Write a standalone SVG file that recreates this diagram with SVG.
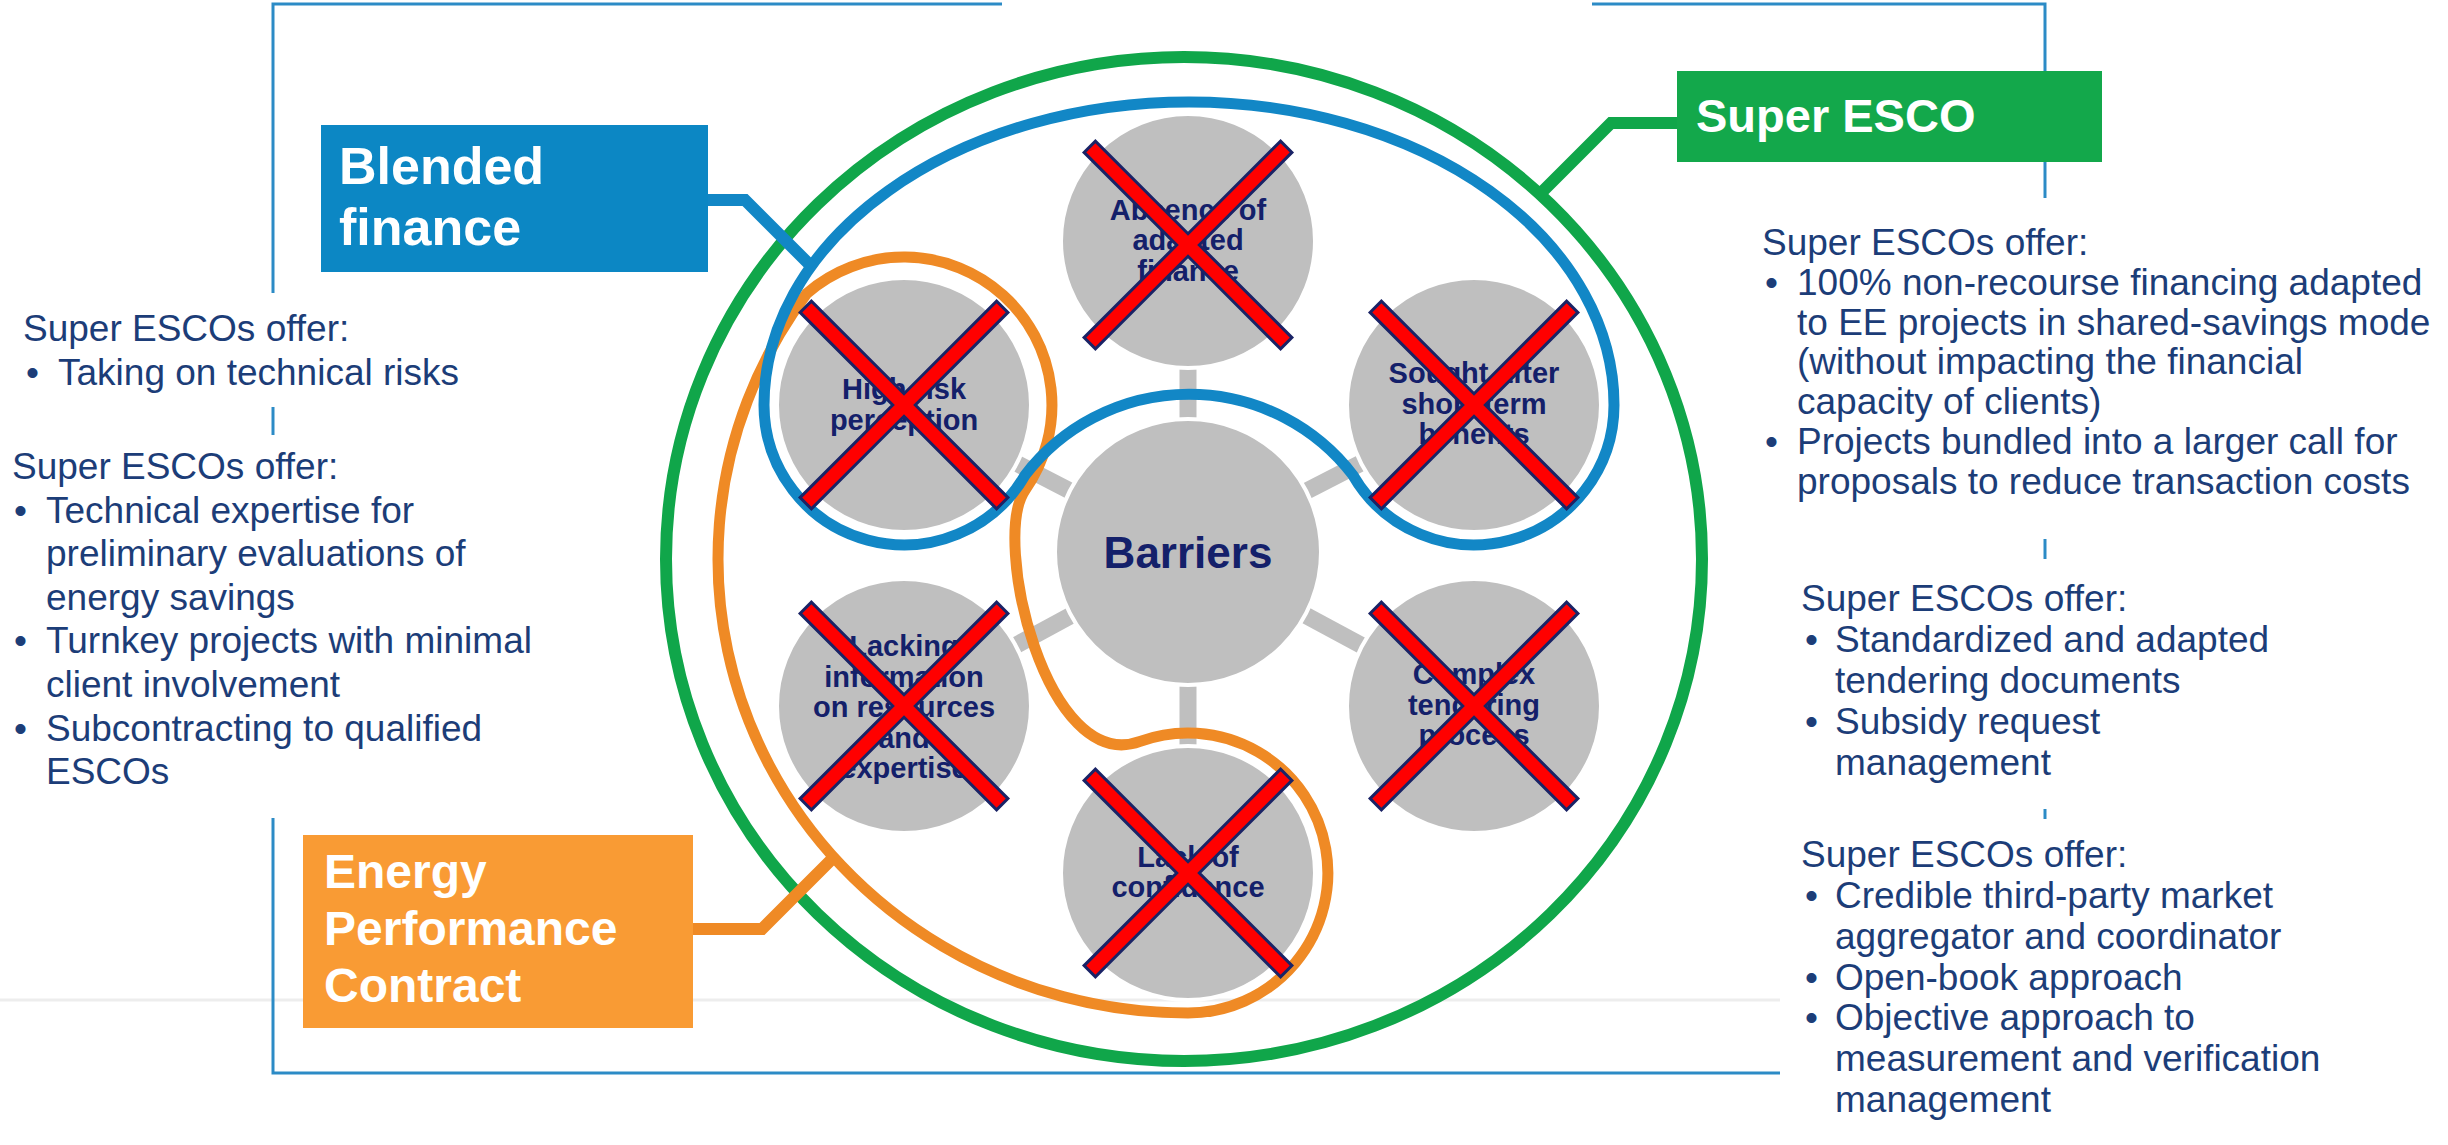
<svg xmlns="http://www.w3.org/2000/svg" width="2448" height="1145" viewBox="0 0 2448 1145">
<style>
.frame{fill:none;stroke:#2C8BC6;stroke-width:3}
.node{fill:#BFBFBF;stroke:#FFFFFF;stroke-width:4}
.ntext{font-family:"Liberation Sans",Arial,sans-serif;font-weight:bold;font-size:29px;fill:#14206A;text-anchor:middle}
.btext{font-family:"Liberation Sans",Arial,sans-serif;font-weight:bold;fill:#FFFFFF}
.body{font-family:"Liberation Sans",Arial,sans-serif;font-size:37px;fill:#1C3D78}
.stub{stroke:#BFBFBF;stroke-width:17;fill:none}
.xo{fill:#FF0000;stroke:#1A2366;stroke-width:3;stroke-linejoin:miter}
.loop{fill:none;stroke-width:11}
</style>
<defs>
<polygon id="xmark" class="xo" points="11.3,0 103.9,92.6 92.6,103.9 0,11.3 -92.6,103.9 -103.9,92.6 -11.3,0 -103.9,-92.6 -92.6,-103.9 0,-11.3 92.6,-103.9 103.9,-92.6"/>
</defs>
<rect width="2448" height="1145" fill="#FFFFFF"/>
<line x1="0" y1="1000" x2="1780" y2="1000" stroke="#EDEDED" stroke-width="3"/>
<g id="frame" class="frame">
<path d="M1002 4 L273 4 L273 293"/>
<path d="M273 407 L273 435"/>
<path d="M273 818 L273 1073 L1780 1073"/>
<path d="M1592 4 L2045 4 L2045 80"/>
<path d="M2045 150 L2045 198"/>
<path d="M2045 539 L2045 559"/>
<path d="M2045 809 L2045 819"/>
</g>
<g id="super-esco-ring">
<ellipse cx="1184" cy="559" rx="518" ry="502" fill="none" stroke="#10A64A" stroke-width="12"/>
</g>
<g id="connectors">
<g id="stubs" class="stub">
<line x1="1188" y1="552" x2="1188" y2="241"/>
<line x1="1188" y1="552" x2="1188" y2="873"/>
<line x1="1188" y1="552" x2="904" y2="405"/>
<line x1="1188" y1="552" x2="1474" y2="405"/>
<line x1="1188" y1="552" x2="904" y2="706"/>
<line x1="1188" y1="552" x2="1474" y2="706"/>
</g>
</g>
<g id="epc-loop">
<path class="loop" stroke="#EF8A25" d="M1188 1013 A470 454 0 0 1 806.9 293.3 A148 148 0 0 1 1025.2 489.9 C990.8 539 1046.1 775.6 1140.1 741.4 A140 140 0 1 1 1188 1013 Z"/>
</g>
<g id="blended-loop">
<path class="loop" stroke="#1287C6" d="M764 405 A425 303 0 0 1 1614 405 A140 140 0 0 1 1352.8 475 A206.6 206.6 0 0 0 1025.2 475 A140 140 0 0 1 764 405 Z"/>
</g>
<g id="barriers">
<circle class="node" cx="1188" cy="552" r="133"/>
<text class="ntext" style="font-size:44px" x="1188" y="568">Barriers</text>
</g>
<g id="absence">
<circle class="node" cx="1188" cy="241" r="127"/>
<text class="ntext"><tspan x="1188" y="220">Absence of</tspan><tspan x="1188" y="250">adapted</tspan><tspan x="1188" y="281">finance</tspan></text>
<use href="#xmark" x="1188" y="245"/>
</g>
<g id="high-risk">
<circle class="node" cx="904" cy="405" r="127"/>
<text class="ntext"><tspan x="904" y="399">High risk</tspan><tspan x="904" y="430">perception</tspan></text>
<use href="#xmark" x="904" y="405"/>
</g>
<g id="sought-after">
<circle class="node" cx="1474" cy="405" r="127"/>
<text class="ntext"><tspan x="1474" y="383">Sought after</tspan><tspan x="1474" y="414">short-term</tspan><tspan x="1474" y="444">benefits</tspan></text>
<use href="#xmark" x="1474" y="405"/>
</g>
<g id="lacking-information">
<circle class="node" cx="904" cy="706" r="127"/>
<text class="ntext"><tspan x="904" y="656">Lacking</tspan><tspan x="904" y="687">information</tspan><tspan x="904" y="717">on resources</tspan><tspan x="904" y="748">and</tspan><tspan x="904" y="778">expertise</tspan></text>
<use href="#xmark" x="904" y="706"/>
</g>
<g id="complex-tendering">
<circle class="node" cx="1474" cy="706" r="127"/>
<text class="ntext"><tspan x="1474" y="684">Complex</tspan><tspan x="1474" y="715">tendering</tspan><tspan x="1474" y="745">process</tspan></text>
<use href="#xmark" x="1474" y="706"/>
</g>
<g id="lack-confidence">
<circle class="node" cx="1188" cy="873" r="127"/>
<text class="ntext"><tspan x="1188" y="867">Lack of</tspan><tspan x="1188" y="897">confidence</tspan></text>
<use href="#xmark" x="1188" y="873"/>
</g>
<g id="box-connectors" fill="none" stroke-width="12" stroke-linejoin="miter">
<path stroke="#1287C6" d="M700 200 L745 200 L812 267"/>
<path stroke="#10A64A" d="M1685 123 L1611 123 L1540 194"/>
<path stroke="#EF8A25" d="M685 929 L762 929 L834 857"/>
</g>
<g id="blended-finance">
<rect x="321" y="125" width="387" height="147" fill="#0C87C4"/>
<text class="btext" style="font-size:52px"><tspan x="339" y="184">Blended</tspan><tspan x="339" y="245">finance</tspan></text>
</g>
<g id="super-esco">
<rect x="1677" y="71" width="425" height="91" fill="#13A84B"/>
<text class="btext" style="font-size:47px" x="1696" y="132">Super ESCO</text>
</g>
<g id="energy-performance-contract">
<rect x="303" y="835" width="390" height="193" fill="#F99B34"/>
<text class="btext" style="font-size:48px"><tspan x="324" y="888">Energy</tspan><tspan x="324" y="945">Performance</tspan><tspan x="324" y="1002">Contract</tspan></text>
</g>
<g id="left-text-1" class="body">
<text x="23" y="341">Super ESCOs offer:</text>
<text y="385"><tspan x="26">•</tspan><tspan x="58">Taking on technical risks</tspan></text>
</g>
<g id="left-text-2" class="body">
<text x="12" y="479">Super ESCOs offer:</text>
<text><tspan x="14" y="523">•</tspan><tspan x="46" y="523">Technical expertise for</tspan><tspan x="46" y="566">preliminary evaluations of</tspan><tspan x="46" y="610">energy savings</tspan><tspan x="14" y="653">•</tspan><tspan x="46" y="653">Turnkey projects with minimal</tspan><tspan x="46" y="697">client involvement</tspan><tspan x="14" y="741">•</tspan><tspan x="46" y="741">Subcontracting to qualified</tspan><tspan x="46" y="784">ESCOs</tspan></text>
</g>
<g id="right-text-1" class="body">
<text x="1762" y="255">Super ESCOs offer:</text>
<text><tspan x="1765" y="295">•</tspan><tspan x="1797" y="295">100% non-recourse financing adapted</tspan><tspan x="1797" y="335">to EE projects in shared-savings mode</tspan><tspan x="1797" y="374">(without impacting the financial</tspan><tspan x="1797" y="414">capacity of clients)</tspan><tspan x="1765" y="454">•</tspan><tspan x="1797" y="454">Projects bundled into a larger call for</tspan><tspan x="1797" y="494">proposals to reduce transaction costs</tspan></text>
</g>
<g id="right-text-2" class="body">
<text x="1801" y="611">Super ESCOs offer:</text>
<text><tspan x="1805" y="652">•</tspan><tspan x="1835" y="652">Standardized and adapted</tspan><tspan x="1835" y="693">tendering documents</tspan><tspan x="1805" y="734">•</tspan><tspan x="1835" y="734">Subsidy request</tspan><tspan x="1835" y="775">management</tspan></text>
</g>
<g id="right-text-3" class="body">
<text x="1801" y="867">Super ESCOs offer:</text>
<text><tspan x="1805" y="908">•</tspan><tspan x="1835" y="908">Credible third-party market</tspan><tspan x="1835" y="949">aggregator and coordinator</tspan><tspan x="1805" y="990">•</tspan><tspan x="1835" y="990">Open-book approach</tspan><tspan x="1805" y="1030">•</tspan><tspan x="1835" y="1030">Objective approach to</tspan><tspan x="1835" y="1071">measurement and verification</tspan><tspan x="1835" y="1112">management</tspan></text>
</g>
</svg>
